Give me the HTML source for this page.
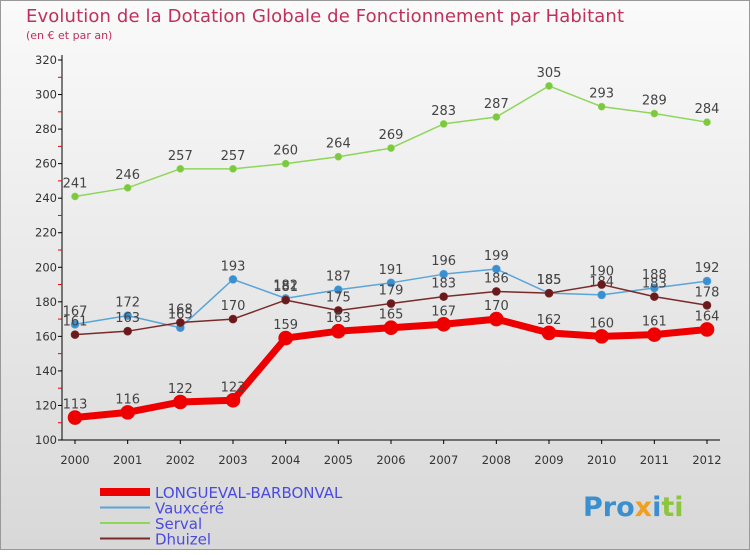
<!DOCTYPE html>
<html><head><meta charset="utf-8"><style>
body{margin:0}
svg text{font-family:"DejaVu Sans","Liberation Sans",sans-serif}
</style></head><body>
<svg width="750" height="550" viewBox="0 0 750 550" xmlns="http://www.w3.org/2000/svg">
<defs><linearGradient id="bg" x1="0" y1="0" x2="0" y2="1"><stop offset="0" stop-color="#fafafa"/><stop offset="1" stop-color="#d8d8d8"/></linearGradient></defs>
<rect x="0.5" y="0.5" width="749" height="549" fill="url(#bg)" stroke="#999"/>
<text x="26" y="22" font-size="18" fill="#c0305a" textLength="598">Evolution de la Dotation Globale de Fonctionnement par Habitant</text>
<text x="26" y="39" font-size="11" fill="#c0305a">(en € et par an)</text>
<g id="axes"></g>
<g id="series"></g>
<g id="legend"></g>
<text x="583" y="516" font-size="27" font-weight="bold"><tspan fill="#3a8fd0">Pro</tspan><tspan fill="#f0a020">x</tspan><tspan fill="#3a8fd0">i</tspan><tspan fill="#8cc63f">ti</tspan></text>
</svg>
<script>
const years=[2000,2001,2002,2003,2004,2005,2006,2007,2008,2009,2010,2011,2012];
const yTicks=[100,120,140,160,180,200,220,240,260,280,300,320];
const longueval=[113,116,122,123,159,163,165,167,170,162,160,161,164];
const vauxcere=[167,172,165,193,182,187,191,196,199,185,184,188,192];
const serval=[241,246,257,257,260,264,269,283,287,305,293,289,284];
const dhuizel=[161,163,168,170,181,175,179,183,186,185,190,183,178];
const NS='http://www.w3.org/2000/svg';
const X=i=>75+i*(707-75)/12;
const Y=v=>440-(v-100)*(380/220);
function mk(t,a,p){const e=document.createElementNS(NS,t);for(const k in a)e.setAttribute(k,a[k]);p.appendChild(e);return e;}
const ax=document.getElementById('axes');
let l=mk('line',{x1:62,y1:55,x2:62,y2:440,stroke:'#000'},ax);


l=mk('line',{x1:62,y1:440,x2:720,y2:440,stroke:'#000'},ax);


yTicks.forEach(v=>{
  mk('line',{x1:58,y1:Y(v),x2:62,y2:Y(v),stroke:'#000'},ax);
  if(v<320)mk('line',{x1:58,y1:Y(v+10),x2:62,y2:Y(v+10),stroke:'#e00'},ax);
  const t=mk('text',{x:57,y:Y(v)+4,'font-size':11.5,'text-anchor':'end',fill:'#333'},ax);t.textContent=v;
  
  
});
years.forEach((y,i)=>{
  mk('line',{x1:X(i),y1:440,x2:X(i),y2:444,stroke:'#000'},ax);
  const t=mk('text',{x:X(i),y:464,'font-size':11.5,'text-anchor':'middle',fill:'#333'},ax);t.textContent=y;
  
  
});
const sg=document.getElementById('series');
function series(vals,color,w,r,name,fill){
  const g=mk('g',{},sg);
  
  
  mk('polyline',{points:vals.map((v,i)=>X(i)+','+Y(v)).join(' '),fill:'none',stroke:color,'stroke-width':w,'stroke-linejoin':'round'},g);
  vals.forEach((v,i)=>{
    const c=mk('circle',{cx:X(i),cy:Y(v),r:r,fill:fill,stroke:color,'stroke-width':0.6},g);
    
    
    const t=mk('text',{x:X(i),y:Y(v)-9,'font-size':13,'text-anchor':'middle',fill:'#444'},g);t.textContent=v;
    
    
  });
}
series(serval,'#8ed65a',1.5,3.5,'serval-series','#7cc83f');
series(vauxcere,'#5aa5d8',1.5,4,'vauxcere-series','#3a8fd0');
series(dhuizel,'#7a2a2a',1.5,4,'dhuizel-series','#6a1a1a');
series(longueval,'#ee0000',7,7,'longueval-series','#ee0000');
const lg=document.getElementById('legend');
const items=[['LONGUEVAL-BARBONVAL','#ee0000',8],['Vauxcéré','#5aa5d8',2],['Serval','#8ed65a',2],['Dhuizel','#7a2a2a',2]];
items.forEach((it,i)=>{
  const y=492+i*15.5;
  const g=mk('g',{},lg);
  
  
  mk('line',{x1:100,y1:y,x2:150,y2:y,stroke:it[1],'stroke-width':it[2]},g);
  const t=mk('text',{x:155,y:y+6,'font-size':15,fill:'#4a4ae0'},g);t.textContent=it[0];
});
</script>
</body></html>
